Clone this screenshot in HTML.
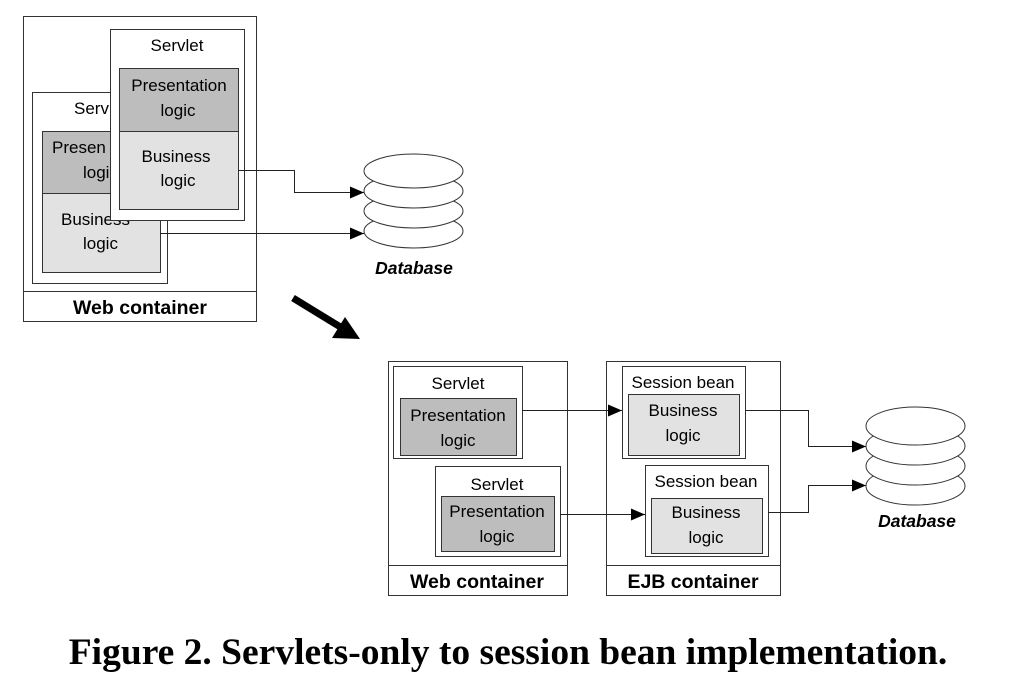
<!DOCTYPE html>
<html><head><style>
html,body{margin:0;padding:0;background:#fff;width:1010px;height:694px;overflow:hidden}
svg{display:block}
text{font-family:"Liberation Sans",sans-serif;fill:#000}
</style></head><body>
<svg width="1010" height="694" viewBox="0 0 1010 694" xmlns="http://www.w3.org/2000/svg">
<defs>
<marker id="ah" markerWidth="14" markerHeight="12" refX="14" refY="6" orient="auto" markerUnits="userSpaceOnUse">
<path d="M0,0 L14,6 L0,12 Z" fill="#000"/></marker>
</defs>
<g stroke="#333" stroke-width="1" fill="none">
<rect x="23.5" y="16.5" width="233" height="305" fill="#fff"/>
<line x1="23" y1="291.5" x2="256" y2="291.5"/>
<rect x="32.5" y="92.5" width="135" height="191" fill="#fff"/>
<rect x="42.5" y="131.5" width="118" height="62" fill="#bdbdbd"/>
<rect x="42.5" y="193.5" width="118" height="79" fill="#e2e2e2"/>
</g>
<g font-size="17">
<text x="74" y="114">Serv</text>
<text x="52" y="153">Presen</text>
<text x="83" y="178">logi</text>
<text x="61" y="225">Business</text>
<text x="83" y="249">logic</text>
</g>
<g stroke="#333" stroke-width="1" fill="none">
<rect x="110.5" y="29.5" width="134" height="191" fill="#fff"/>
<rect x="119.5" y="68.5" width="119" height="63" fill="#bdbdbd"/>
<rect x="119.5" y="131.5" width="119" height="78" fill="#e2e2e2"/>
</g>
<g font-size="17" text-anchor="middle">
<text x="177" y="51">Servlet</text>
<text x="179" y="91">Presentation</text>
<text x="178" y="116">logic</text>
<text x="176" y="162">Business</text>
<text x="178" y="186">logic</text>
</g>
<text x="140" y="314" font-size="19.5" font-weight="bold" text-anchor="middle">Web container</text>
<g stroke="#222" stroke-width="1" fill="none">
<polyline points="238,170.5 294.5,170.5 294.5,192.5 364,192.5" marker-end="url(#ah)"/>
<polyline points="160,233.5 364,233.5" marker-end="url(#ah)"/>
</g>
<g stroke="#333" stroke-width="1" fill="#fff">
<ellipse cx="413.5" cy="231" rx="49.5" ry="17"/>
<ellipse cx="413.5" cy="211" rx="49.5" ry="17"/>
<ellipse cx="413.5" cy="191" rx="49.5" ry="17"/>
<ellipse cx="413.5" cy="171" rx="49.5" ry="17"/>
</g>
<text x="414" y="274" font-size="17.5" font-weight="bold" font-style="italic" text-anchor="middle">Database</text>
<line x1="293" y1="298" x2="342" y2="328" stroke="#000" stroke-width="7"/>
<path d="M360,339 L332,338 L345,317 Z" fill="#000"/>
<g stroke="#333" stroke-width="1" fill="none">
<rect x="388.5" y="361.5" width="179" height="234" fill="#fff"/>
<line x1="388" y1="565.5" x2="567" y2="565.5"/>
<rect x="393.5" y="366.5" width="129" height="92"/>
<rect x="400.5" y="398.5" width="116" height="57" fill="#bdbdbd"/>
<rect x="435.5" y="466.5" width="125" height="90"/>
<rect x="441.5" y="496.5" width="113" height="55" fill="#bdbdbd"/>
<rect x="606.5" y="361.5" width="174" height="234" fill="#fff"/>
<line x1="606" y1="565.5" x2="780" y2="565.5"/>
<rect x="622.5" y="366.5" width="123" height="92"/>
<rect x="628.5" y="394.5" width="111" height="61" fill="#e2e2e2"/>
<rect x="645.5" y="465.5" width="123" height="91"/>
<rect x="651.5" y="498.5" width="111" height="55" fill="#e2e2e2"/>
</g>
<g font-size="17" text-anchor="middle">
<text x="458" y="389">Servlet</text>
<text x="458" y="421">Presentation</text>
<text x="458" y="446">logic</text>
<text x="497" y="490">Servlet</text>
<text x="497" y="517">Presentation</text>
<text x="497" y="542">logic</text>
<text x="683" y="388">Session bean</text>
<text x="683" y="416">Business</text>
<text x="683" y="441">logic</text>
<text x="706" y="487">Session bean</text>
<text x="706" y="518">Business</text>
<text x="706" y="543">logic</text>
</g>
<text x="477" y="588" font-size="19.5" font-weight="bold" text-anchor="middle">Web container</text>
<text x="693" y="588" font-size="19.5" font-weight="bold" text-anchor="middle">EJB container</text>
<g stroke="#222" stroke-width="1" fill="none">
<line x1="522" y1="410.5" x2="622" y2="410.5" marker-end="url(#ah)"/>
<line x1="560" y1="514.5" x2="645" y2="514.5" marker-end="url(#ah)"/>
<polyline points="745,410.5 808.5,410.5 808.5,446.5 866,446.5" marker-end="url(#ah)"/>
<polyline points="768,512.5 808.5,512.5 808.5,485.5 866,485.5" marker-end="url(#ah)"/>
</g>
<g stroke="#333" stroke-width="1" fill="#fff">
<ellipse cx="915.5" cy="486" rx="49.5" ry="19"/>
<ellipse cx="915.5" cy="466" rx="49.5" ry="19"/>
<ellipse cx="915.5" cy="446" rx="49.5" ry="19"/>
<ellipse cx="915.5" cy="426" rx="49.5" ry="19"/>
</g>
<text x="917" y="527" font-size="17.5" font-weight="bold" font-style="italic" text-anchor="middle">Database</text>
<text x="508" y="664" font-size="37.5" font-weight="bold" text-anchor="middle" style="font-family:'Liberation Serif',serif">Figure 2. Servlets-only to session bean implementation.</text>
</svg>
</body></html>
